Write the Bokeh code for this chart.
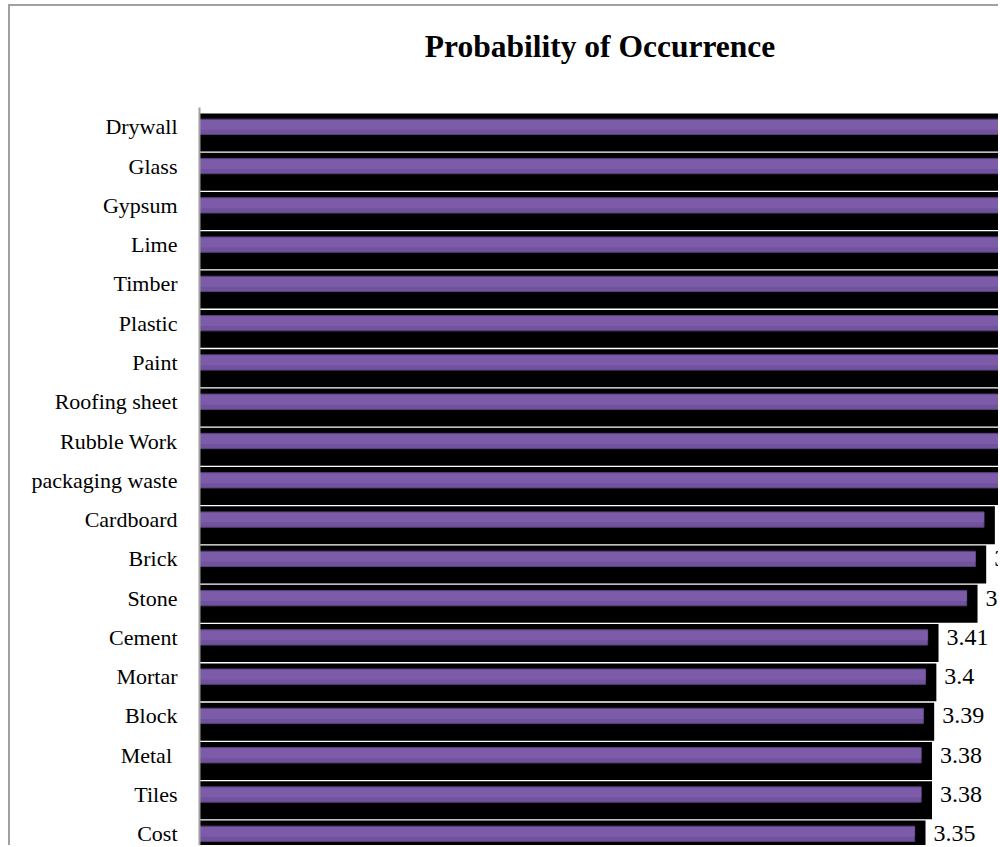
from bokeh.plotting import figure
from bokeh.models import Range1d, FixedTicker, ColumnDataSource
from bokeh.core.properties import value
from bokeh.embed import file_html
from bokeh.resources import INLINE

# ---- data (top to bottom) ----
categories = ["Drywall", "Glass", "Gypsum", "Lime", "Timber", "Plastic", "Paint",
              "Roofing sheet", "Rubble Work", "packaging waste", "Cardboard", "Brick",
              "Stone", "Cement", "Mortar", "Block", "Metal ", "Tiles", "Cost"]
probability = [4.05, 4.00, 3.96, 3.93, 3.90, 3.88, 3.85, 3.82, 3.78, 3.74,
               3.67, 3.63, 3.59, 3.41, 3.40, 3.39, 3.38, 3.38, 3.35]
title_text = "Probability of Occurrence"

N = len(categories)
pos = [N - 1 - i for i in range(N)]

SERIF = "'Liberation Serif', 'Times New Roman', serif"

# style constants
SHADOW_SHIFT = 0.145
SHADOW_H = 0.967
BAR_H = 0.39
BAR_INSET = 0.05
X_END = 3.696
Y_TOP = N - 1 + 0.491

src = ColumnDataSource(dict(
    cat=categories,
    val=probability,
    pos=pos,
    shadow_y=[p - SHADOW_SHIFT for p in pos],
    bar_right=[v - BAR_INSET for v in probability],
    hi_y=[p + 0.05 for p in pos],
    label=[f"{v:g}" for v in probability],
))

p = figure(width=990, height=841, output_backend="svg", toolbar_location=None,
           x_range=Range1d(0, X_END), y_range=Range1d(-0.349, Y_TOP),
           x_axis_location=None, min_border_left=189, min_border_right=0,
           min_border_bottom=0, min_border_top=101, title=title_text)
p.styles = {"border-top": "2px solid #a0a0a0", "border-left": "2px solid #a0a0a0",
            "margin-left": "8px", "margin-top": "4px"}

p.title.text_font = SERIF
p.title.text_font_size = "31.5px"
p.title.text_font_style = "bold"
p.title.align = "center"
p.title.text_color = "black"
p.title.standoff = 0
p.title.padding = (0, 0, 0, 44)

p.outline_line_color = None
p.grid.grid_line_color = None
p.background_fill_color = "white"
p.border_fill_color = "white"

# black shadow bars
p.hbar(y="shadow_y", left=0, right="val", height=SHADOW_H, source=src,
       fill_color="black", line_color=None)
# purple bars (two tones to suggest the gradient)
p.hbar(y="pos", left=0, right="bar_right", height=BAR_H, source=src,
       fill_color="#71529d", line_color="#58407c", line_width=1)
p.hbar(y="hi_y", left=0.003, right="bar_right", height=0.25, source=src,
       fill_color="#7c5ba9", line_color=None)

# value labels
p.text(x="val", y="pos", text="label", source=src, x_offset=8,
       text_baseline="middle", text_align="left",
       text_font=value(SERIF), text_font_size="24px", text_color="black")

ax = p.yaxis[0]
ax.ticker = FixedTicker(ticks=pos)
ax.major_label_overrides = {pp: c for pp, c in zip(pos, categories)}
ax.major_tick_line_color = None
ax.minor_tick_line_color = None
ax.major_tick_out = 0
ax.major_tick_in = 0
ax.axis_line_color = "#a0a0a0"
ax.axis_line_width = 2
ax.major_label_text_font = SERIF
ax.major_label_text_font_size = "22px"
ax.major_label_text_color = "black"
ax.major_label_standoff = 22

open("out.html", "w").write(file_html(p, INLINE))
